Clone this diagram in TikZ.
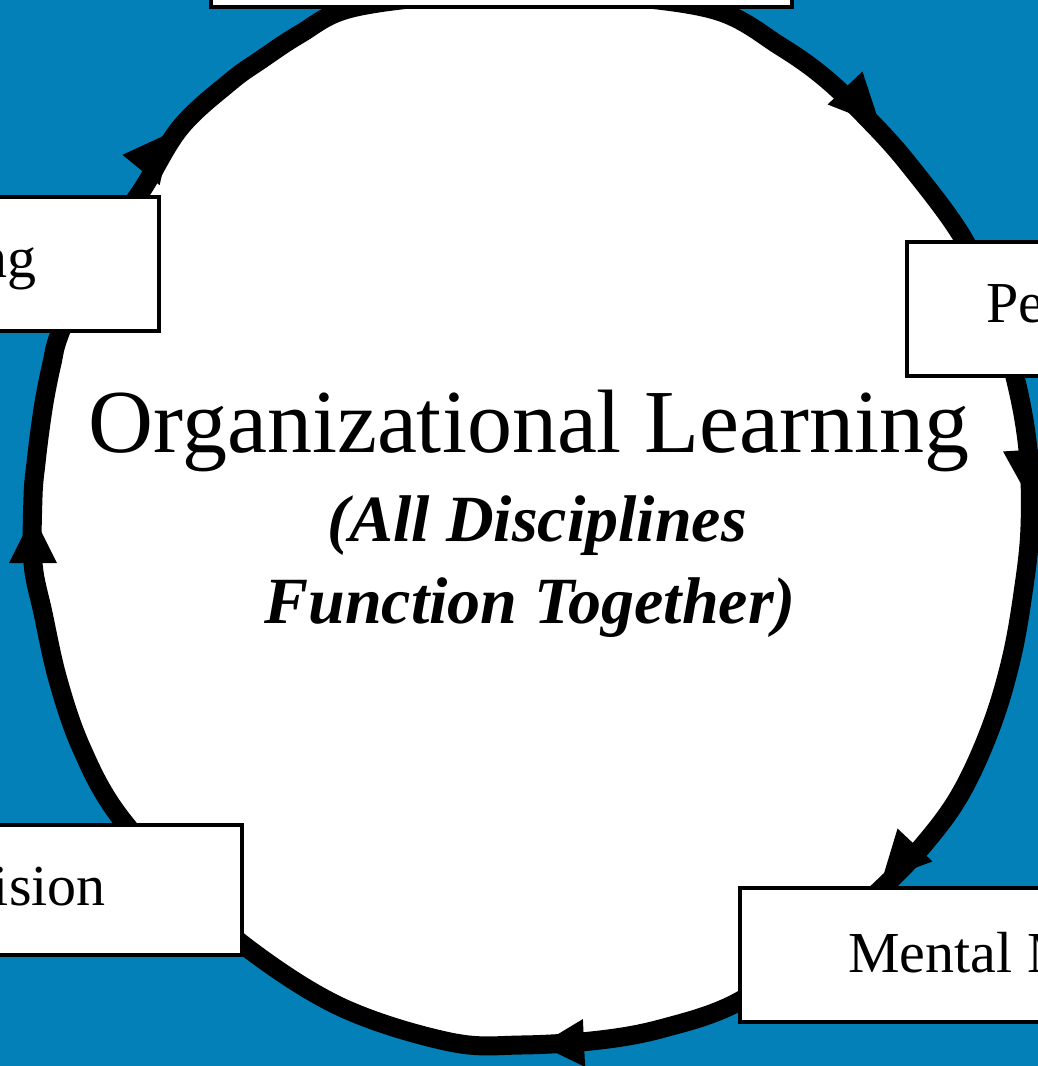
\documentclass[tikz,border=0pt]{standalone}
\usepackage{fontspec}
\setmainfont{Liberation Serif}
\usetikzlibrary{calc}
\definecolor{bgblue}{RGB}{4,128,184}
\begin{document}
\begin{tikzpicture}[x=1pt,y=-1pt,
  box/.style={draw=black,line width=4pt,fill=white,inner sep=0pt,outer sep=0pt},
  boxtext/.style={inner sep=0pt,font=\fontsize{58}{58}\selectfont},
  ring/.style={draw=black,line width=19pt,fill=white},
  head/.style={fill=black,draw=none}]
\useasboundingbox (0,0) rectangle (1038,1066);
\clip (0,0) rectangle (1038,1066);
\fill[bgblue] (0,0) rectangle (1038,1066);
% cycle ring
\draw[ring] plot[smooth cycle,tension=0.6] coordinates {
(535,-8) (620,-4) (718,11) (780,46) (825,78) (870,121) (910,166) (963,238)
(992,305) (1015,377) (1028,450) (1030,527) (1023,593) (1011,660) (991,727)
(961,793) (925,843) (880,890) (810,952) (736,1003) (664,1028) (600,1040)
(521,1045) (450,1042) (343,1008) (250,950) (185,890) (117,813) (81,747)
(58,680) (43,613) (33,563) (33,497) (36,463) (40,430) (45,397) (52,363)
(60,333) (92,258) (140,193) (180,128) (230,82) (262,59) (300,34) (348,9) (440,-4)};
% arrowheads (base -> tip)
\foreach \i/\bx/\by/\tx/\ty in {1/845/88/880/125, 2/1027/450/1030/500, 3/915/845/882/880,
  4/584/1043/540/1045, 5/33/563/33/515, 6/141/170/172/132}{
  \coordinate (hb\i) at (\bx,\by);
  \coordinate (ht\i) at (\tx,\ty);
  \fill[head] ($(hb\i)!24pt!90:(ht\i)$) -- (ht\i) -- ($(hb\i)!24pt!-90:(ht\i)$) -- cycle;
}
% boxes
\node[box,minimum width=581pt,minimum height=107pt] (topbox) at (501.5,-46.5) {};
\node[box,minimum width=259pt,minimum height=134pt] (ulbox) at (29.5,264) {};
\node[box,minimum width=293pt,minimum height=134pt] (rbox) at (1053.5,309) {};
\node[box,minimum width=342pt,minimum height=130pt] (llbox) at (71,890) {};
\node[box,minimum width=460pt,minimum height=134pt] (lrbox) at (970,955) {};
% box texts
\node[boxtext,anchor=base east] (ultext) at (37,277) {ng};
\node[boxtext,anchor=base west] (rtext) at (986,322) {Pe};
\node[boxtext,anchor=base west] (lrtext) at (848,972) {Mental M};
\node[boxtext,anchor=base east] (lltext) at (106,905) {ision};
% centre texts
\node[anchor=base,inner sep=0pt,font=\fontsize{90}{90}\selectfont] (title) at (529,452) {Organizational Learning};
\node[anchor=base,inner sep=0pt,font=\fontsize{66}{66}\selectfont\bfseries\itshape] (sub1) at (537,541) {(All Disciplines};
\node[anchor=base,inner sep=0pt,font=\fontsize{66}{66}\selectfont\bfseries\itshape] (sub2) at (530,623) {Function Together)};
\end{tikzpicture}
\end{document}
